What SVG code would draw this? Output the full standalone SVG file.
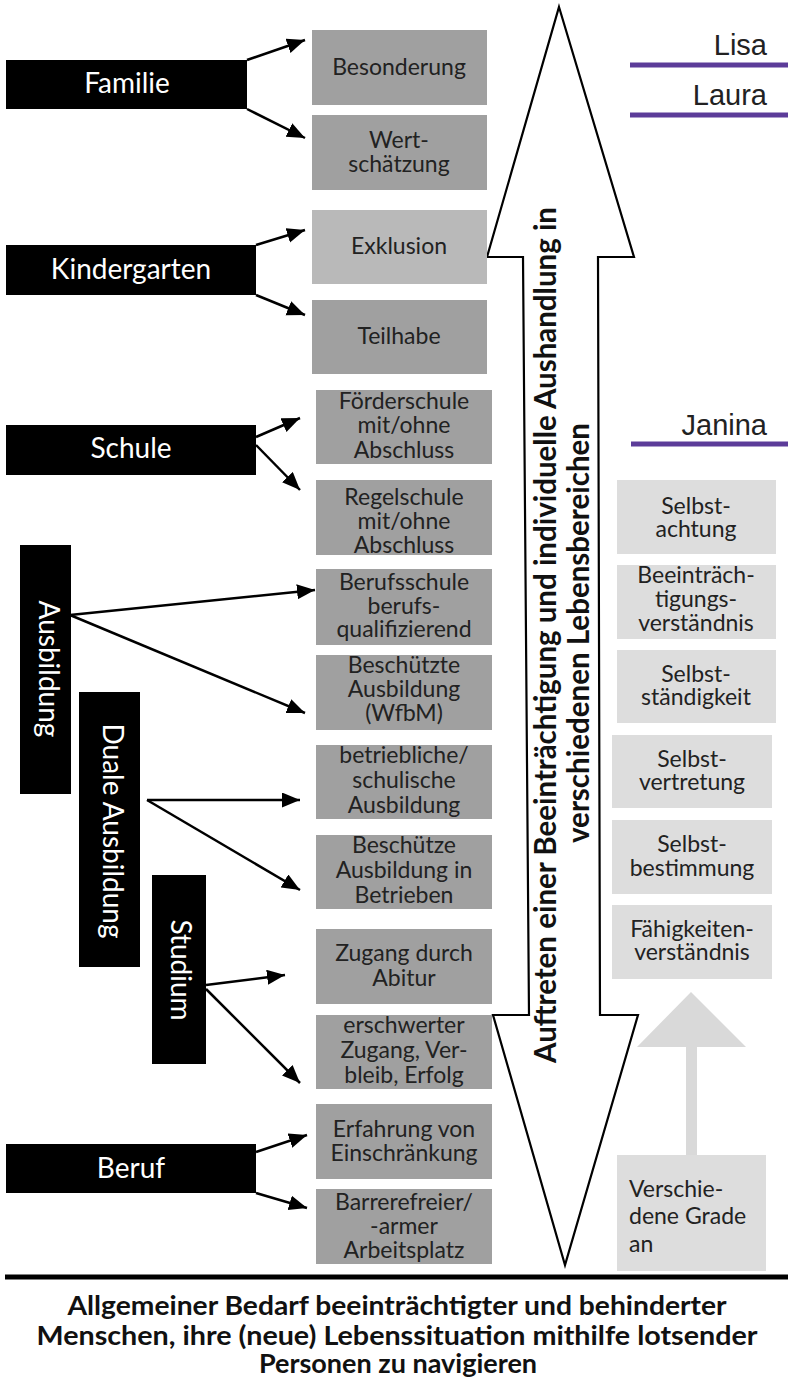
<svg xmlns="http://www.w3.org/2000/svg" width="788" height="1378" viewBox="0 0 788 1378">
<defs>
<style>
.blk{fill:#000}
.g1{fill:#a0a0a0}
.g2{fill:#b9b9b9}
.g3{fill:#dddddd}
.lbl{font-family:Lato,"Open Sans",sans-serif;font-size:28px;fill:#fff;text-anchor:middle}
.t{font-family:Lato,"Open Sans",sans-serif;font-size:23px;fill:#222;text-anchor:middle}
.tl{font-family:Lato,"Open Sans",sans-serif;font-size:23px;fill:#222;text-anchor:start}
.name{font-family:"Liberation Sans",Arial,sans-serif;font-size:29px;fill:#222;text-anchor:end}
.big{font-family:Lato,"Open Sans",sans-serif;font-weight:bold;font-size:30px;fill:#111;text-anchor:middle}
.foot{font-family:Lato,"Open Sans",sans-serif;font-weight:bold;font-size:27px;fill:#111;text-anchor:middle}
.conn{stroke:#000;stroke-width:2.5;fill:none;marker-end:url(#ah)}
.purple{stroke:#5c3c99;stroke-width:5}
</style>
<marker id="ah" markerUnits="userSpaceOnUse" markerWidth="20" markerHeight="16" refX="18" refY="7.5" orient="auto">
<path d="M0,0 L18,7.5 L0,15 z" fill="#000"/>
</marker>
</defs>
<rect width="788" height="1378" fill="#fff"/>

<!-- big double arrow -->
<g id="lifeArrow">
<polygon points="559,7 634,257 598,257 600,1015 638,1015 565,1265 493,1015 529,1015 523,257 487,257" fill="#fff" stroke="#000" stroke-width="2.2"/>
<text class="big" transform="translate(556,635) rotate(-90)" textLength="856" lengthAdjust="spacingAndGlyphs">Auftreten einer Beeinträchtigung und individuelle Aushandlung in</text>
<text class="big" transform="translate(589,633) rotate(-90)" textLength="420" lengthAdjust="spacingAndGlyphs">verschiedenen Lebensbereichen</text>
</g>

<!-- categories -->
<g id="familie"><rect class="blk" x="6" y="60" width="241" height="49"/><text class="lbl" x="127" y="93">Familie</text></g>
<g id="kindergarten"><rect class="blk" x="6" y="245" width="250" height="50"/><text class="lbl" x="131" y="279">Kindergarten</text></g>
<g id="schule"><rect class="blk" x="6" y="425" width="250" height="50"/><text class="lbl" x="131" y="458">Schule</text></g>
<g id="ausbildung"><rect class="blk" x="20" y="545" width="51" height="249"/><text class="lbl" transform="translate(49,669) rotate(90)" y="10">Ausbildung</text></g>
<g id="duale"><rect class="blk" x="79" y="692" width="61" height="275"/><text class="lbl" transform="translate(113,831) rotate(90)" y="10">Duale Ausbildung</text></g>
<g id="studium"><rect class="blk" x="152" y="875" width="54" height="189"/><text class="lbl" transform="translate(181,970) rotate(90)" y="10">Studium</text></g>
<g id="beruf"><rect class="blk" x="6" y="1144" width="250" height="49"/><text class="lbl" x="131" y="1178">Beruf</text></g>

<!-- outcome boxes -->
<g id="besonderung"><rect class="g1" x="312" y="30" width="175" height="75"/><text class="t" x="399" y="75">Besonderung</text></g>
<g id="wertschaetzung"><rect class="g1" x="312" y="115" width="175" height="75"/><text class="t" x="399" y="148">Wert-</text><text class="t" x="399" y="172">schätzung</text></g>
<g id="exklusion"><rect class="g2" x="312" y="210" width="175" height="74"/><text class="t" x="399" y="254">Exklusion</text></g>
<g id="teilhabe"><rect class="g1" x="312" y="300" width="175" height="74"/><text class="t" x="399" y="344">Teilhabe</text></g>
<g id="foerderschule"><rect class="g1" x="316" y="390" width="176" height="74"/><text class="t" x="404" y="409">Förderschule</text><text class="t" x="404" y="433">mit/ohne</text><text class="t" x="404" y="458">Abschluss</text></g>
<g id="regelschule"><rect class="g1" x="316" y="480" width="176" height="75"/><text class="t" x="404" y="505">Regelschule</text><text class="t" x="404" y="529">mit/ohne</text><text class="t" x="404" y="553">Abschluss</text></g>
<g id="berufsschule"><rect class="g1" x="316" y="569" width="176" height="76"/><text class="t" x="404" y="590">Berufsschule</text><text class="t" x="404" y="614">berufs-</text><text class="t" x="404" y="637">qualifizierend</text></g>
<g id="beschuetzte"><rect class="g1" x="316" y="655" width="176" height="75"/><text class="t" x="404" y="673">Beschützte</text><text class="t" x="404" y="697">Ausbildung</text><text class="t" x="404" y="721">(WfbM)</text></g>
<g id="betriebliche"><rect class="g1" x="316" y="745" width="176" height="74"/><text class="t" x="404" y="763">betriebliche/</text><text class="t" x="404" y="788">schulische</text><text class="t" x="404" y="813">Ausbildung</text></g>
<g id="beschuetzeBetriebe"><rect class="g1" x="316" y="835" width="176" height="74"/><text class="t" x="404" y="853">Beschütze</text><text class="t" x="404" y="878">Ausbildung in</text><text class="t" x="404" y="903">Betrieben</text></g>
<g id="abitur"><rect class="g1" x="316" y="929" width="176" height="75"/><text class="t" x="404" y="961">Zugang durch</text><text class="t" x="404" y="986">Abitur</text></g>
<g id="erschwert"><rect class="g1" x="316" y="1015" width="176" height="74"/><text class="t" x="404" y="1033">erschwerter</text><text class="t" x="404" y="1058">Zugang, Ver-</text><text class="t" x="404" y="1083">bleib, Erfolg</text></g>
<g id="erfahrung"><rect class="g1" x="316" y="1104" width="176" height="75"/><text class="t" x="404" y="1137">Erfahrung von</text><text class="t" x="404" y="1161">Einschränkung</text></g>
<g id="barrierefrei"><rect class="g1" x="316" y="1189" width="176" height="75"/><text class="t" x="404" y="1210">Barrerefreier/</text><text class="t" x="404" y="1234">-armer</text><text class="t" x="404" y="1258">Arbeitsplatz</text></g>

<!-- names -->
<g id="lisa"><text class="name" x="767" y="55">Lisa</text><line class="purple" x1="630" y1="65" x2="788" y2="65"/></g>
<g id="laura"><text class="name" x="767" y="105">Laura</text><line class="purple" x1="630" y1="115" x2="788" y2="115"/></g>
<g id="janina"><text class="name" x="767" y="435">Janina</text><line class="purple" x1="631" y1="444" x2="788" y2="444"/></g>

<!-- competences -->
<g id="selbstachtung"><rect class="g3" x="617" y="480" width="159" height="74"/><text class="t" x="696" y="514">Selbst-</text><text class="t" x="696" y="537">achtung</text></g>
<g id="beeintraechtigung"><rect class="g3" x="617" y="565" width="159" height="74"/><text class="t" x="696" y="583">Beeinträch-</text><text class="t" x="696" y="607">tigungs-</text><text class="t" x="696" y="631">verständnis</text></g>
<g id="selbststaendigkeit"><rect class="g3" x="617" y="650" width="159" height="73"/><text class="t" x="696" y="682">Selbst-</text><text class="t" x="696" y="705">ständigkeit</text></g>
<g id="selbstvertretung"><rect class="g3" x="612" y="735" width="160" height="73"/><text class="t" x="692" y="767">Selbst-</text><text class="t" x="692" y="790">vertretung</text></g>
<g id="selbstbestimmung"><rect class="g3" x="612" y="820" width="160" height="74"/><text class="t" x="692" y="852">Selbst-</text><text class="t" x="692" y="876">bestimmung</text></g>
<g id="faehigkeiten"><rect class="g3" x="612" y="905" width="160" height="74"/><text class="t" x="692" y="937">Fähigkeiten-</text><text class="t" x="692" y="960">verständnis</text></g>
<g id="grade"><rect class="g3" x="617" y="1155" width="149" height="116"/><text class="tl" x="629" y="1197">Verschie-</text><text class="tl" x="629" y="1224">dene Grade</text><text class="tl" x="629" y="1252">an</text></g>
<g id="upArrow"><polygon points="691,992 746,1047 697,1047 697,1155 686,1155 686,1047 637,1047" fill="#d9d9d9"/></g>

<!-- connectors -->
<g id="connectors">
<path class="conn" d="M247,60 L305,40"/>
<path class="conn" d="M247,109 L305,138"/>
<path class="conn" d="M256,245 L305,230"/>
<path class="conn" d="M256,295 L305,315"/>
<path class="conn" d="M256,437 L300,418"/>
<path class="conn" d="M256,445 L300,490"/>
<path class="conn" d="M70,615 L315,590"/>
<path class="conn" d="M70,615 L305,713"/>
<path class="conn" d="M147,800 L300,800"/>
<path class="conn" d="M147,800 L300,890"/>
<path class="conn" d="M206,985 L285,975"/>
<path class="conn" d="M206,989 L300,1083"/>
<path class="conn" d="M256,1152 L307,1135"/>
<path class="conn" d="M256,1193 L307,1208"/>
</g>

<!-- footer -->
<g id="footer">
<line x1="5" y1="1277" x2="788" y2="1277" stroke="#000" stroke-width="5"/>
<text class="foot" x="397" y="1315" textLength="659" lengthAdjust="spacingAndGlyphs">Allgemeiner Bedarf beeinträchtigter und behinderter</text>
<text class="foot" x="397" y="1345" textLength="721" lengthAdjust="spacingAndGlyphs">Menschen, ihre (neue) Lebenssituation mithilfe lotsender</text>
<text class="foot" x="398" y="1373">Personen zu navigieren</text>
</g>
</svg>
